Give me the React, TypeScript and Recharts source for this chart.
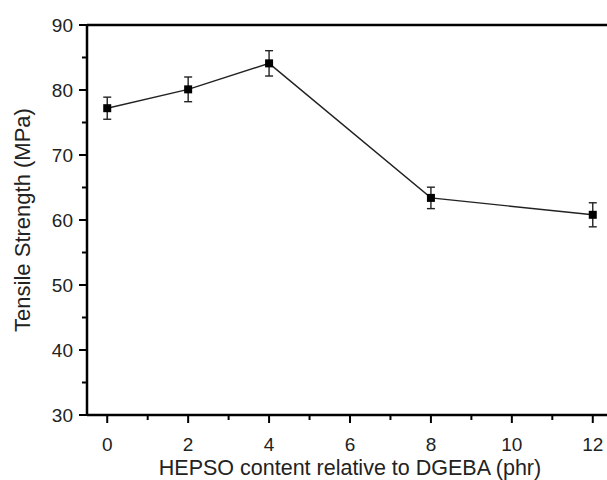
import { LineChart, Line, XAxis, YAxis, ErrorBar, ReferenceLine, Label } from "recharts"

// HEPSO content (phr)
const contents = [0, 2, 4, 8, 12]
// tensile strength (MPa) and its error
const strength = [77.2, 80.1, 84.1, 63.4, 60.8]
const strengthErr = [1.7, 1.9, 1.95, 1.65, 1.85]

const xTicks = [0, 1, 2, 3, 4, 5, 6, 7, 8, 9, 10, 11, 12]
const yTicks = [30, 35, 40, 45, 50, 55, 60, 65, 70, 75, 80, 85, 90]

const data = contents.map((c, i) => ({ x: c, y: strength[i], err: strengthErr[i] }))

const font = "'Liberation Sans', Arial, sans-serif"

const XTick = (props: any) => {
  const { x, y, payload } = props
  const major = payload.value % 2 === 0
  return (
    <g>
      <line x1={x} y1={y} x2={x} y2={y + (major ? 8 : 5)} stroke="#000" strokeWidth={2} />
      {major && (
        <text x={x} y={y + 36} textAnchor="middle" fontSize={19} fontFamily={font} fill="#222">
          {payload.value}
        </text>
      )}
    </g>
  )
}

const YTick = (props: any) => {
  const { x, y, payload } = props
  const major = payload.value % 10 === 0
  return (
    <g>
      <line x1={x} y1={y} x2={x - (major ? 8 : 5)} y2={y} stroke="#000" strokeWidth={2} />
      {major && (
        <text x={x - 14} y={y + 6.8} textAnchor="end" fontSize={19} fontFamily={font} fill="#222">
          {payload.value}
        </text>
      )}
    </g>
  )
}

const SquareDot = (props: any) => {
  const { cx, cy } = props
  return <rect x={cx - 4} y={cy - 4} width={8} height={8} fill="#000" />
}

export default function App() {
  return (
    <div style={{ position: "absolute", left: 0, top: 0, width: 607, height: 480, overflow: "hidden", background: "#fff" }}>
      <LineChart width={640} height={480} data={data} margin={{ top: 25, right: 27, bottom: 0, left: 0 }}>
        <XAxis
          dataKey="x"
          type="number"
          domain={[-0.5, 12.5]}
          ticks={xTicks}
          allowDataOverflow
          height={65}
          tickSize={0}
          tickMargin={0}
          tick={<XTick />}
          axisLine={{ stroke: "#000", strokeWidth: 2.5 }}
        >
          <Label
            value="HEPSO content relative to DGEBA (phr)"
            position="insideBottom"
            offset={5}
            fontSize={21.5}
            fontFamily={font}
            fill="#222"
          />
        </XAxis>
        <YAxis
          type="number"
          domain={[30, 90]}
          ticks={yTicks}
          allowDataOverflow
          width={87}
          tickSize={0}
          tickMargin={0}
          tick={<YTick />}
          axisLine={{ stroke: "#000", strokeWidth: 2.5 }}
        >
          <Label
            value="Tensile Strength (MPa)"
            angle={-90}
            position="insideLeft"
            offset={22}
            fontSize={22}
            fontFamily={font}
            fill="#222"
            style={{ textAnchor: "middle" }}
          />
        </YAxis>
        <ReferenceLine y={90} stroke="#000" strokeWidth={2.5} />
        <Line
          dataKey="y"
          stroke="#222"
          strokeWidth={1.4}
          dot={<SquareDot />}
          activeDot={false}
          isAnimationActive={false}
        >
          <ErrorBar dataKey="err" width={4} stroke="#222" strokeWidth={1.4} direction="y" />
        </Line>
      </LineChart>
    </div>
  )
}
